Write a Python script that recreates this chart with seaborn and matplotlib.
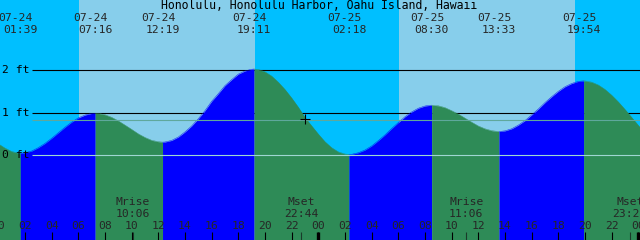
import numpy as np
import pandas as pd
import matplotlib
matplotlib.use("Agg")
import matplotlib.pyplot as plt
import seaborn as sns

# ---------------- data ----------------
title = "Honolulu, Honolulu Harbor, Oahu Island, Hawaii"

# tide level (ft) read every hour, hours since 07-24 00:00
hourly_hours = list(range(0, 50))
hourly_levels = [0.27, 0.09, 0.06, 0.18, 0.40, 0.66, 0.88, 0.985, 0.955, 0.81,
                 0.61, 0.42, 0.32, 0.35, 0.55, 0.86, 1.27, 1.64, 1.91, 2.025,
                 1.965, 1.72, 1.35, 0.89, 0.50, 0.18, 0.03, 0.06, 0.22, 0.48,
                 0.77, 1.02, 1.16, 1.165, 1.05, 0.875, 0.69, 0.58, 0.575, 0.71,
                 0.95, 1.24, 1.505, 1.69, 1.75, 1.655, 1.415, 1.08, 0.705, 0.36]

# tide level (ft) read at the half hours (00:30, 01:30, ...)
half_hours = [0.5, 1.5, 2.5, 3.5, 4.5, 5.5, 6.5, 7.5, 8.5, 9.5, 10.5, 11.5,
              12.5, 13.5, 14.5, 15.5, 16.5, 17.5, 18.5, 19.5, 20.5, 21.5, 22.5, 23.5,
              24.5, 25.5, 26.5, 27.5, 28.5, 29.5, 30.5, 31.5, 33.5, 34.5, 35.5,
              36.5, 37.5, 38.5, 39.5, 40.5, 41.5, 42.5, 43.5, 44.5, 45.5, 46.5,
              47.5, 48.5]
half_levels = [0.17, 0.052, 0.10, 0.28, 0.53, 0.78, 0.947, 0.986, 0.894, 0.711, 0.505, 0.353,
               0.313, 0.43, 0.69, 1.05, 1.45, 1.78, 1.985, 2.02, 1.865, 1.549, 1.132, 0.694,
               0.32, 0.081, 0.023, 0.124, 0.345, 0.63, 0.907, 1.108, 1.122, 0.97, 0.78,
               0.624, 0.56, 0.624, 0.816, 1.089, 1.378, 1.613, 1.739, 1.721, 1.551, 1.257,
               0.893, 0.528]

# high / low tide events
extreme_hours = [1.65, 7.267, 12.317, 19.183, 26.3, 32.5, 37.55, 43.9]
extreme_levels = [0.05, 0.99, 0.31, 2.03, 0.02, 1.18, 0.56, 1.75]
extreme_dates = ["07-24", "07-24", "07-24", "07-24", "07-25", "07-25", "07-25", "07-25"]
extreme_clock = ["01:39", "07:16", "12:19", "19:11", "02:18", "08:30", "13:33", "19:54"]

# sun
sunrise_hours = [6.05, 30.05]
sunset_hours = [19.25, 43.25]

# moon
moon_hours = [10.1, 22.733, 35.1, 47.367]
moon_names = ["Mrise", "Mset", "Mrise", "Mset"]
moon_clock = ["10:06", "22:44", "11:06", "23:22"]

# reference levels
level_lines = [1, 2]
level_labels = ["0 ft", "1 ft", "2 ft"]
level_label_values = [0, 1, 2]
msl_level = 0.82
datum_level = 0.0

# "now" mark
now_hour = [23.0]
now_level = [0.847]

tick_hours = list(range(0, 49, 2))
tick_labels = ["00", "02", "04", "06", "08", "10", "12", "14", "16", "18", "20", "22",
               "00", "02", "04", "06", "08", "10", "12", "14", "16", "18", "20", "22", "00"]
midnight_hours = [0, 24, 48]

# ---------------- style ----------------
DAY = "#87CEEB"
NIGHT = "#00BFFF"
FLOOD = "#0000FF"
EBB = "#2E8B57"
MSL_C = "#5fa89c"
DATUM_C = "#9fd6d2"
FS = 8.2

sns.set_theme(style="white")
plt.rcParams["font.family"] = ["DejaVu Sans Mono", "DejaVu Sans"]

W, H = 640, 240
fig = plt.figure(figsize=(W / 100, H / 100), dpi=100)
ax = fig.add_axes([0, 0, 1, 1])
XMIN, XMAX = 0.1275, 48.1275
YMIN, YMAX = -1.993, 3.654
xt = ax.get_xaxis_transform()


def yf(px):
    return 1 - px / H


# sky
bounds = [XMIN - 2] + sorted(sunrise_hours + sunset_hours) + [XMAX + 2]
for i, (a, b) in enumerate(zip(bounds[:-1], bounds[1:])):
    ax.axvspan(a, b, color=NIGHT if i % 2 == 0 else DAY, lw=0, zorder=0)

line_start = 2.53
ax.hlines(level_lines, line_start, XMAX + 1, color="black", lw=0.8, zorder=1)

# tide curve
df = pd.DataFrame({"hour": hourly_hours + half_hours + extreme_hours,
                   "level": hourly_levels + half_levels + extreme_levels})
df = df.drop_duplicates("hour").sort_values("hour")
seg_bounds = [hourly_hours[0]] + extreme_hours + [hourly_hours[-1]]
for a, b in zip(seg_bounds[:-1], seg_bounds[1:]):
    seg = df[(df.hour >= a) & (df.hour <= b)]
    rising = seg.level.iloc[-1] > seg.level.iloc[0]
    c = FLOOD if rising else EBB
    ax.fill_between(seg.hour, -3, seg.level, color=c, lw=0, zorder=2)
    sns.lineplot(data=seg, x="hour", y="level", color=c, lw=0.3, ax=ax,
                 estimator=None, sort=False, zorder=2.1)

ax.hlines(msl_level, line_start, XMAX + 1, color=MSL_C, lw=0.8, zorder=3)
ax.hlines(datum_level, line_start, XMAX + 1, color=DATUM_C, lw=0.8, zorder=3)

for lab, v in zip(level_labels, level_label_values):
    ax.text(0.24, v, lab, ha="left", va="center", fontsize=FS, color="black", zorder=4)

ax.plot(now_hour, now_level, marker="+", ms=6.5, mew=0.8, color="black", ls="none", zorder=5)

# title and tide events
fig.text(0.498, yf(5.4), title, ha="center", va="center", fontsize=8.3, color="black")
for t, d, c in zip(extreme_hours, extreme_dates, extreme_clock):
    ax.text(t - 0.34, yf(17.6), d, transform=xt, ha="center", va="center", fontsize=FS)
    ax.text(t, yf(29.6), c, transform=xt, ha="center", va="center", fontsize=FS)

# moon events
for t, n, c in zip(moon_hours, moon_names, moon_clock):
    ax.text(t, yf(201.8), n, transform=xt, ha="center", va="center", fontsize=FS)
    ax.text(t, yf(213.6), c, transform=xt, ha="center", va="center", fontsize=FS)
ax.vlines(moon_hours, 0, 8 / H, transform=xt, color="#1a3a2a", lw=0.8, zorder=4)

# time axis
ax.vlines(tick_hours, 0, 8 / H, transform=xt, color="black", lw=0.8, zorder=4)
ax.vlines(midnight_hours, 0, 8 / H, transform=xt, color="black", lw=2.4, zorder=4)
for t, lab in zip(tick_hours, tick_labels):
    ax.text(t, yf(225.7), lab, transform=xt, ha="center", va="center", fontsize=FS)

ax.set_xlim(XMIN, XMAX)
ax.set_ylim(YMIN, YMAX)
ax.axis("off")

fig.savefig("out.png", dpi=100)
